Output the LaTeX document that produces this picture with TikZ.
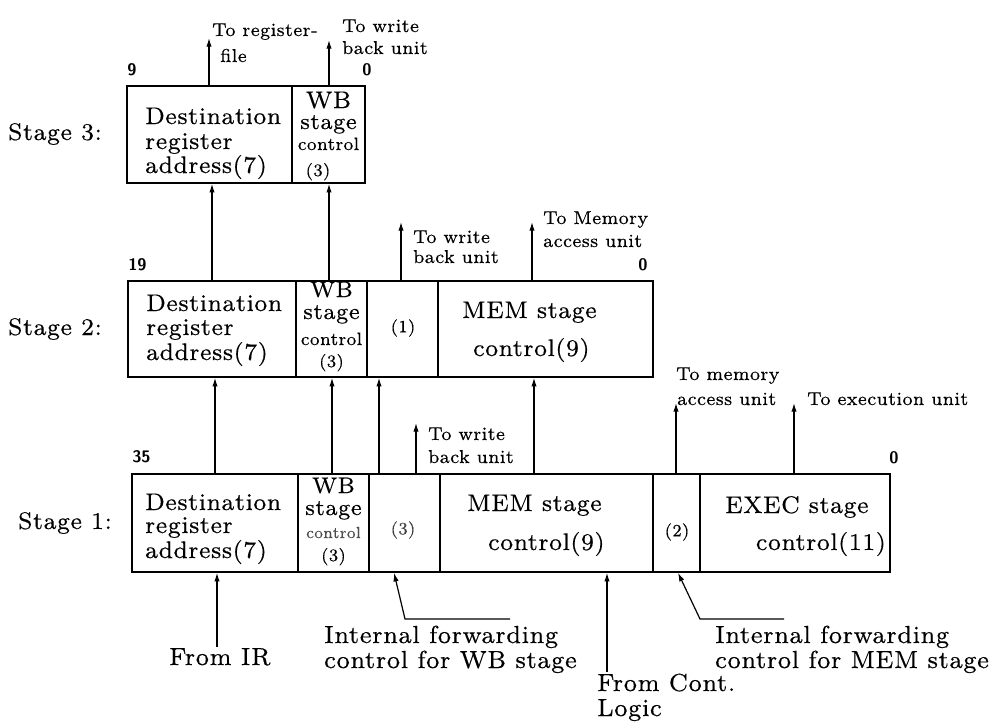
\documentclass[tikz,border=0pt]{standalone}
\usepackage{fontspec}
\setmainfont{lmroman8-regular.otf}[LetterSpace=3,FakeBold=0.35]
\usetikzlibrary{arrows.meta,fit}
\newcommand\fBox{\fontsize{18}{18}\selectfont}
\newcommand\fWB{\fontsize{18}{18}\selectfont}
\newcommand\fWBs{\fontsize{17}{17}\selectfont}
\newcommand\fStg{\fontsize{17}{17}\selectfont}
\newcommand\fCtl{\fontsize{13.5}{13.5}\selectfont}
\newcommand\fSml{\fontsize{13}{13}\selectfont}
\newcommand\fLbl{\fontsize{14}{14}\selectfont}
\newcommand\fBot{\fontsize{18.5}{18.5}\selectfont}
\newcommand\fNum{\fontsize{12.5}{12.5}\selectfont\sffamily\bfseries}
\newcommand\fStage{\fontsize{18}{18}\selectfont}
\tikzset{
  cell/.style={draw, line width=1.1pt, inner sep=0pt},
  arr/.style={line width=0.9pt, -{Latex[length=6.5pt,width=4pt]}},
  tx/.style={inner sep=0pt, anchor=base west},
  txc/.style={inner sep=0pt, anchor=base},
}
\begin{document}
\begin{tikzpicture}[x=0.75pt,y=-0.75pt]
\useasboundingbox (0,0) rectangle (1003,722);

% ---------- cells ----------
\node[cell, fit={(127,86) (292,183)}] (s3a) {};
\node[cell, fit={(292,86) (365,183)}] (s3b) {};

\node[cell, fit={(128,281) (296,377)}] (s2a) {};
\node[cell, fit={(296,281) (367,377)}] (s2b) {};
\node[cell, fit={(367,281) (438,377)}] (s2c) {};
\node[cell, fit={(438,281) (653,377)}] (s2d) {};

\node[cell, fit={(132,474) (298,572)}] (s1a) {};
\node[cell, fit={(298,474) (369,572)}] (s1b) {};
\node[cell, fit={(369,474) (440,572)}] (s1c) {};
\node[cell, fit={(440,474) (653,572)}] (s1d) {};
\node[cell, fit={(653,474) (700,572)}] (s1e) {};
\node[cell, fit={(700,474) (890,572)}] (s1f) {};

% ---------- stage labels ----------
\node[inner sep=0pt, anchor=base east] (st3) at (102,140) {\fStage Stage 3:};
\node[inner sep=0pt, anchor=base east] (st2) at (102,335) {\fStage Stage 2:};
\node[inner sep=0pt, anchor=base east] (st1) at (112,529) {\fStage Stage 1:};

% ---------- stage 3 texts ----------
\node[tx] (s3t1) at (145,124) {\fBox Destination};
\node[tx] (s3t2) at (145,149) {\fBox register};
\node[tx] (s3t3) at (145,173) {\fBox address(7)};
\node[txc] (s3w1) at (328.5,108) {\fWB WB};
\node[txc] (s3w2) at (328.5,129) {\fStg stage};
\node[txc] (s3w3) at (328.5,150) {\fCtl control};
\node[txc] (s3w4) at (318,176) {\fSml (3)};
\node[tx] (n9) at (127,75) {\fNum 9};
\node[txc] (n0a) at (367,75) {\fNum 0};

% ---------- stage 2 texts ----------
\node[tx] (s2t1) at (146,311) {\fBox Destination};
\node[tx] (s2t2) at (146,335) {\fBox register};
\node[tx] (s2t3) at (146,360) {\fBox address(7)};
\node[txc] (s2w1) at (331.5,297) {\fWBs WB};
\node[txc] (s2w2) at (331.5,319) {\fStg stage};
\node[txc] (s2w3) at (331.5,345) {\fCtl control};
\node[txc] (s2w4) at (331.5,367) {\fSml (3)};
\node[inner sep=0pt] (s2c1) at (403,328) {\fSml (1)};
\node[tx] (s2m1) at (462,318) {\fBox MEM stage};
\node[tx] (s2m2) at (473,356) {\fBox control(9)};
\node[tx] (n19) at (128,270) {\fNum 19};
\node[txc] (n0b) at (643,270) {\fNum 0};

% ---------- stage 1 texts ----------
\node[tx] (s1t1) at (145,510) {\fBox Destination};
\node[tx] (s1t2) at (145,533) {\fBox register};
\node[tx] (s1t3) at (145,558) {\fBox address(7)};
\node[txc] (s1w1) at (333.5,493) {\fWBs WB};
\node[txc] (s1w2) at (333.5,515) {\fStg stage};
\node[txc, text=black!70] (s1w3) at (333.5,538) {\fontsize{12}{12}\selectfont control};
\node[txc] (s1w4) at (333.5,561) {\fSml (3)};
\node[inner sep=0pt, text=black!75] (s1c1) at (403,530) {\fSml (3)};
\node[tx] (s1m1) at (467,511) {\fBox MEM stage};
\node[tx] (s1m2) at (488,550) {\fBox control(9)};
\node[inner sep=0pt] (s1e1) at (677,532) {\fSml (2)};
\node[tx] (s1x1) at (725,513) {\fBox EXEC stage};
\node[inner sep=0pt, anchor=base east] (s1x2) at (886,550) {\fBox control(11)};
\node[tx] (n35) at (132,462) {\fNum 35};
\node[txc] (n0c) at (894,463) {\fNum 0};

% ---------- top labels ----------
\node[tx] (l31) at (212,36) {\fLbl To register-};
\node[tx] (l32) at (220,62) {\fLbl file};
\node[tx] (l33) at (342,32) {\fLbl To write};
\node[tx] (l34) at (342,54) {\fLbl back unit};

\node[tx] (l21) at (413,243) {\fLbl To write};
\node[tx] (l22) at (413,263) {\fLbl back unit};
\node[tx] (l23) at (543,224) {\fLbl To Memory};
\node[tx] (l24) at (543,247) {\fLbl access unit};

\node[tx] (l11) at (428,440) {\fLbl To write};
\node[tx] (l12) at (428,463) {\fLbl back unit};
\node[tx] (l13) at (676,380) {\fLbl To memory};
\node[tx] (l14) at (677,405) {\fLbl access unit};
\node[tx] (l15) at (807,405) {\fLbl To execution unit};

% ---------- bottom labels ----------
\node[tx] (b1) at (169,665) {\fBot From IR};
\node[tx] (b2) at (324,643) {\fBot Internal forwarding};
\node[tx] (b3) at (324,668) {\fBot control for WB stage};
\node[tx] (b4) at (597,691) {\fBot From Cont.};
\node[tx] (b5) at (597,716) {\fBot Logic};
\node[tx] (b6) at (715,643) {\fBot Internal forwarding};
\node[tx] (b7) at (715,668) {\fBot control for MEM stage};

% ---------- free ends ----------
\coordinate (t1) at (209,38);
\coordinate (t2) at (329,40);
\coordinate (t3) at (401,222);
\coordinate (t4) at (532,222);
\coordinate (t5) at (416,423);
\coordinate (t6) at (676,403);
\coordinate (t7) at (794,403);
\coordinate (ir) at (217,647);
\coordinate (fc) at (607,672);
\coordinate (la) at (510,619);
\coordinate (lab) at (405,619);
\coordinate (lat) at (394,0);
\coordinate (lb) at (784,619);
\coordinate (lbb) at (700,619);
\coordinate (lbt) at (678,0);

% ---------- connectors ----------
\draw[arr] (s3a.north -| t1) -- (t1);
\draw[arr] (s3b.north -| t2) -- (t2);
\draw[arr] (s2a.north -| 212,0) -- (s3a.south -| 212,0);
\draw[arr] (s2b.north -| 329,0) -- (s3b.south -| 329,0);
\draw[arr] (s2c.north -| t3) -- (t3);
\draw[arr] (s2d.north -| t4) -- (t4);

\draw[arr] (s1a.north -| 215,0) -- (s2a.south -| 215,0);
\draw[arr] (s1b.north -| 332,0) -- (s2b.south -| 332,0);
\draw[arr] (s1c.north -| 379,0) -- (s2c.south -| 379,0);
\draw[arr] (s1d.north -| 534,0) -- (s2d.south -| 534,0);
\draw[arr] (s1c.north -| t5) -- (t5);
\draw[arr] (s1e.north -| t6) -- (t6);
\draw[arr] (s1f.north -| t7) -- (t7);

\draw[arr] (ir) -- (s1a.south -| ir);
\draw[arr] (fc) -- (s1d.south -| fc);
\draw[arr] (la) -- (lab) -- (s1c.south -| lat);
\draw[arr] (lb) -- (lbb) -- (s1e.south -| lbt);
\end{tikzpicture}
\end{document}
